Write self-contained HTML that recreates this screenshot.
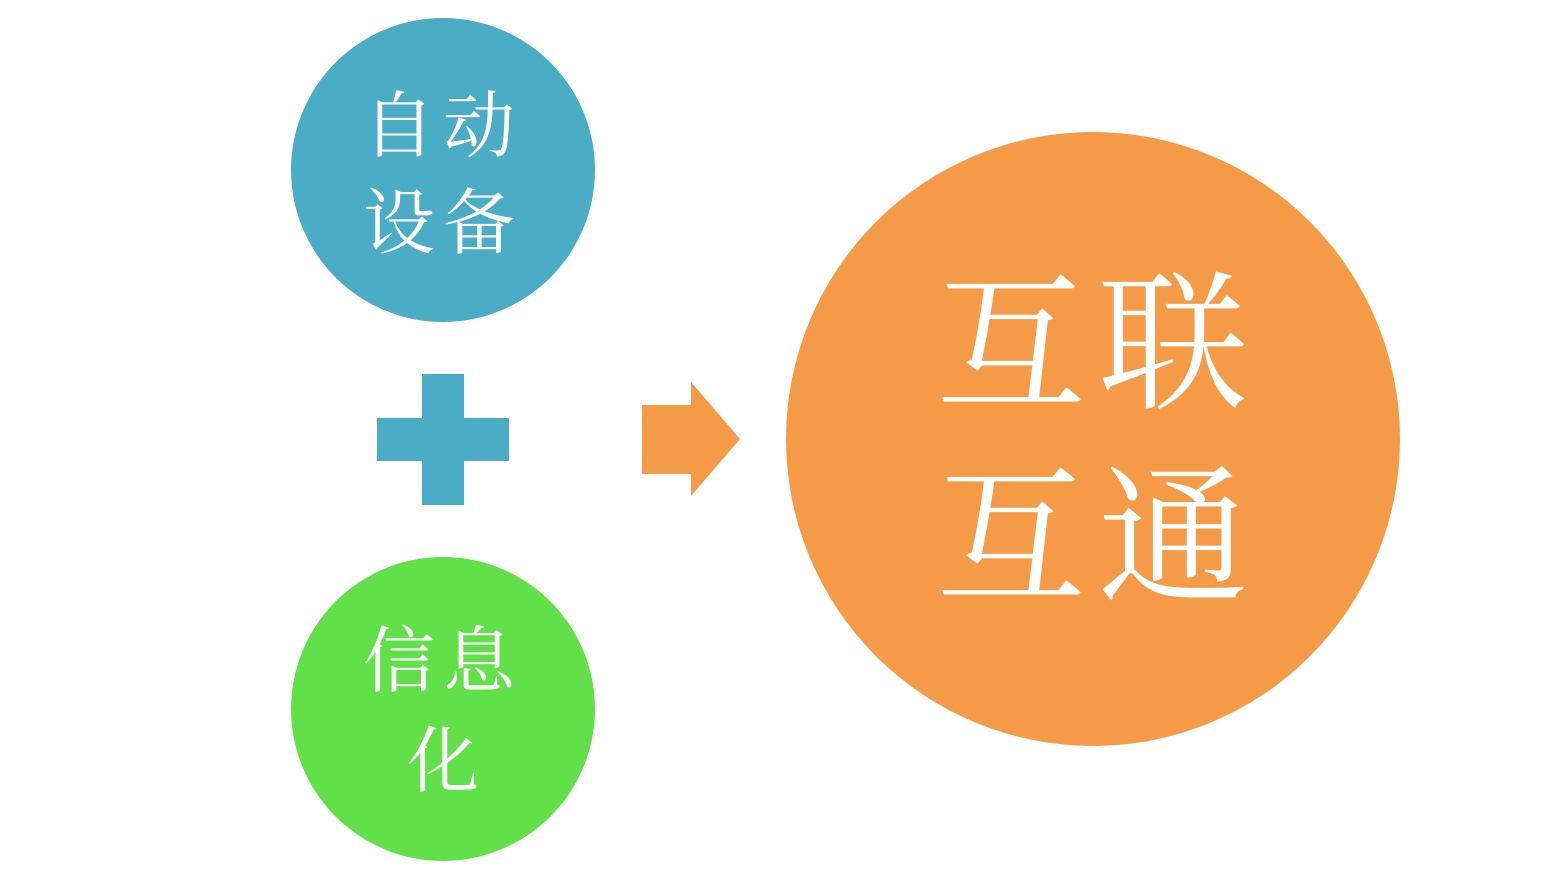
<!DOCTYPE html>
<html><head><meta charset="utf-8"><style>
html,body{margin:0;padding:0;background:#fff;width:1568px;height:876px;overflow:hidden;position:relative}
.c{position:absolute;border-radius:50%}
.t{position:absolute;color:#fff;font-family:"Liberation Serif","Noto Serif CJK SC",serif;text-align:center;white-space:nowrap;line-height:1}
.b{position:absolute;background:#4BACC6}
</style></head><body>
<div class="c" style="left:291px;top:18px;width:304px;height:304px;background:#4BACC6"></div>
<div class="c" style="left:291px;top:557px;width:304px;height:304px;background:#62E04A"></div>
<div class="c" style="left:786px;top:132px;width:614px;height:614px;background:#F59B47"></div>
<div class="b" style="left:422px;top:374px;width:42px;height:131px"></div>
<div class="b" style="left:377px;top:418px;width:132px;height:43px"></div>
<svg style="position:absolute;left:0;top:0" width="1568" height="876">
<polygon points="642,405 691,405 691,382 740,439 691,496 691,474 642,474" fill="#F59B47"/>
</svg>
<div class="t" style="left:293px;width:300px;top:91px;font-size:72px;letter-spacing:8px">自动</div>
<div class="t" style="left:293px;width:300px;top:188px;font-size:72px;letter-spacing:8px">设备</div>
<div class="t" style="left:293px;width:300px;top:626px;font-size:72px;letter-spacing:8px">信息</div>
<div class="t" style="left:293px;width:300px;top:726px;font-size:72px">化</div>
<div class="t" style="left:888px;width:420px;top:272px;font-size:150px;letter-spacing:12px">互联</div>
<div class="t" style="left:888px;width:420px;top:465px;font-size:150px;letter-spacing:12px">互通</div>
</body></html>
